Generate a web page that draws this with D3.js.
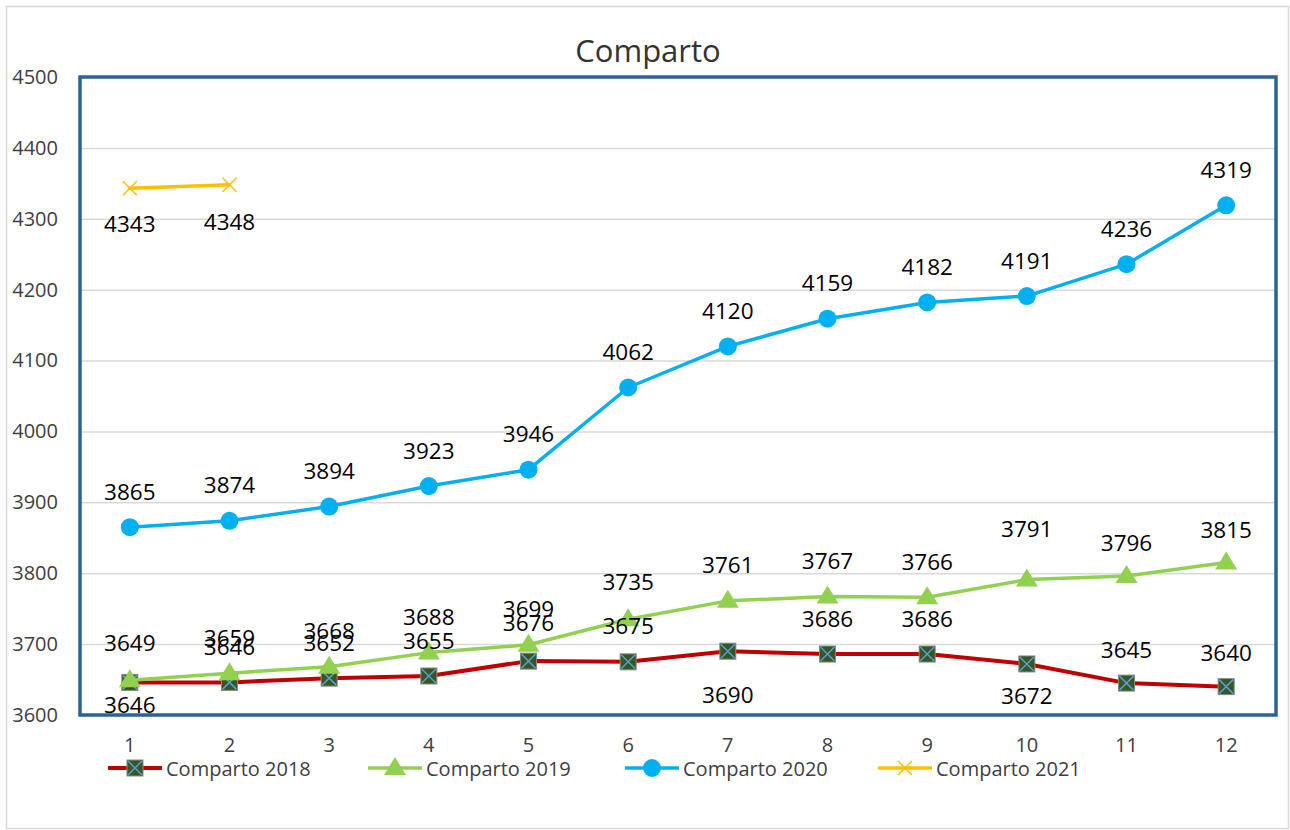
<!DOCTYPE html>
<html><head><meta charset="utf-8">
<script src="https://cdn.jsdelivr.net/npm/d3@7"></script>
<style>
body{margin:0;background:#fff;}
svg{display:block;font-family:"Open Sans","Noto Sans",sans-serif;}
</style></head>
<body><svg id="chart" width="1290" height="830"></svg>
<script>
const months = [1,2,3,4,5,6,7,8,9,10,11,12];
const yTicks = [3600,3700,3800,3900,4000,4100,4200,4300,4400,4500];
const s2018 = [3646,3646,3652,3655,3676,3675,3690,3686,3686,3672,3645,3640];
const s2019 = [3649,3659,3668,3688,3699,3735,3761,3767,3766,3791,3796,3815];
const s2020 = [3865,3874,3894,3923,3946,4062,4120,4159,4182,4191,4236,4319];
const s2021 = [4343,4348];
const seriesNames = ["Comparto 2018","Comparto 2019","Comparto 2020","Comparto 2021"];

// label placement (style only): vertical offset in px from the point
const dy2018 = [22,-36,-36,-36,-39,-36,43,-36,-36,32,-34,-34];
const dy2019 = [-38,-36,-36,-36,-36,-38,-36,-36,-36,-51,-34,-33];
const dy2020 = [-36,-36,-36,-36,-36,-36,-36,-36,-36,-36,-36,-36];
const dy2021 = [35,37];

const svg = d3.select("#chart");
const L=80,R=1276,T=77,B=715;

svg.append("rect").attr("x",6.5).attr("y",6.5).attr("width",1282).attr("height",822)
  .attr("fill","#fff").attr("stroke","#d9d9d9").attr("stroke-width",1.5);

const x = d3.scaleBand().domain(months).range([L,R]);
const cx = d => x(d)+x.bandwidth()/2;
const y = d3.scaleLinear().domain([3600,4500]).range([B,T]);

// gridlines
svg.append("g").attr("transform",`translate(${L},0)`)
  .call(d3.axisLeft(y).tickValues(yTicks).tickSize(-(R-L)).tickFormat(""))
  .call(g=>g.select(".domain").remove())
  .call(g=>g.selectAll("line").attr("stroke","#d9d9d9").attr("stroke-width",1.5));

// y axis labels
svg.append("g").attr("transform",`translate(${L},0)`)
  .call(d3.axisLeft(y).tickValues(yTicks).tickSize(0).tickPadding(22).tickFormat(d3.format("d")))
  .call(g=>g.select(".domain").remove())
  .call(g=>g.selectAll("text").attr("font-size",20).attr("fill","#404040").attr("font-family","'Open Sans',sans-serif"));

// x axis labels
svg.append("g").attr("transform",`translate(0,${B})`)
  .call(d3.axisBottom(x).tickSize(0).tickPadding(23))
  .call(g=>g.select(".domain").remove())
  .call(g=>g.selectAll("text").attr("font-size",20).attr("fill","#404040").attr("font-family","'Open Sans',sans-serif"));

// plot border
svg.append("rect").attr("x",L).attr("y",T).attr("width",R-L).attr("height",B-T)
  .attr("fill","none").attr("stroke","#2c6396").attr("stroke-width",3.5);

// title
svg.append("text").attr("x",648).attr("y",50).attr("text-anchor","middle")
  .attr("dominant-baseline","central").attr("font-size",31).attr("fill","#333").text("Comparto");

const line = d3.line().x((d,i)=>cx(months[i])).y(d=>y(d));

function drawMarker(g,type,px,py){
  if(type==="sq"){
    g.append("rect").attr("x",px-8).attr("y",py-8).attr("width",16).attr("height",16)
      .attr("fill","#375623").attr("stroke","#7f8f7f").attr("stroke-width",1);
    g.append("path").attr("d",`M${px-7},${py-7}L${px+7},${py+7}M${px+7},${py-7}L${px-7},${py+7}`)
      .attr("stroke","#5b9bd5").attr("stroke-width",1.5);
  } else if(type==="tri"){
    g.append("path").attr("d",`M${px},${py-11}L${px+11},${py+7}L${px-11},${py+7}Z`).attr("fill","#92d050");
  } else if(type==="circ"){
    g.append("circle").attr("cx",px).attr("cy",py).attr("r",9).attr("fill","#00b0f0");
  } else if(type==="x"){
    g.append("path").attr("d",`M${px-7},${py-7}L${px+7},${py+7}M${px+7},${py-7}L${px-7},${py+7}`)
      .attr("stroke","#ffc000").attr("stroke-width",1.5);
  }
}

const series = [
  {data:s2018,color:"#c00000",w:4,m:"sq",dy:dy2018},
  {data:s2019,color:"#92d050",w:3.5,m:"tri",dy:dy2019},
  {data:s2020,color:"#00b0f0",w:3.5,m:"circ",dy:dy2020},
  {data:s2021,color:"#ffc000",w:3.5,m:"x",dy:dy2021}
];

series.forEach(s=>{
  const g = svg.append("g");
  g.append("path").attr("d",line(s.data)).attr("fill","none").attr("stroke",s.color)
    .attr("stroke-width",s.w).attr("stroke-linejoin","round").attr("stroke-linecap","round");
  s.data.forEach((v,i)=>drawMarker(g,s.m,cx(months[i]),y(v)));
});
series.forEach(s=>{
  svg.append("g").selectAll("text").data(s.data).join("text")
    .attr("x",(d,i)=>cx(months[i])).attr("y",(d,i)=>y(d)+s.dy[i])
    .attr("text-anchor","middle").attr("dominant-baseline","central")
    .attr("font-size",22.5).attr("fill","#000").text(d=>d);
});

// legend
const legX = [108,368,625,878];
const lg = svg.append("g");
series.forEach((s,i)=>{
  const x0 = legX[i], ly = 768;
  lg.append("line").attr("x1",x0).attr("x2",x0+54).attr("y1",ly).attr("y2",ly)
    .attr("stroke",s.color).attr("stroke-width",s.w);
  drawMarker(lg,s.m,x0+27,ly);
  lg.append("text").attr("x",x0+58).attr("y",ly).attr("dominant-baseline","central")
    .attr("font-size",20).attr("fill","#404040").text(seriesNames[i]);
});
</script></body></html>
